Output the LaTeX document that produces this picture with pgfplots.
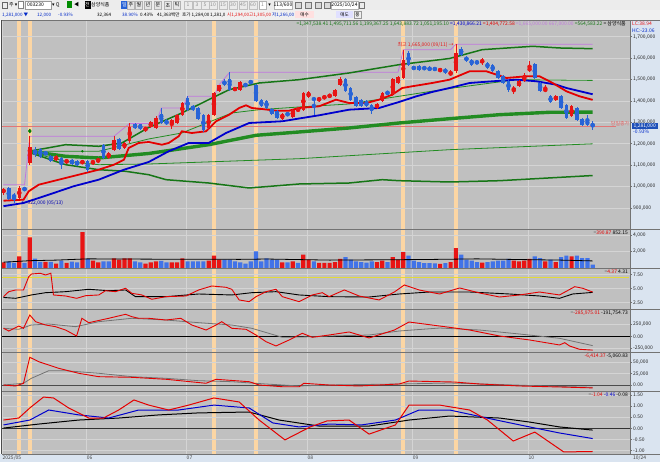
\documentclass[border=0pt]{standalone}
\usepackage{pgfplots}
\pgfplotsset{compat=1.18}
\usepackage{pgfplotstable}
\usepackage{fontspec}
\setmainfont{Noto Sans CJK KR}
\newfontfamily\dv{DejaVu Sans}
\definecolor{bg}{RGB}{192,192,192}
\definecolor{gridc}{RGB}{212,212,212}
\definecolor{band}{RGB}{252,214,164}
\definecolor{colbg}{RGB}{218,228,240}
\definecolor{tbg}{RGB}{236,236,236}
\definecolor{cred}{RGB}{232,20,20}
\definecolor{cblue}{RGB}{40,100,215}
\definecolor{vblue}{RGB}{65,115,232}
\definecolor{mared}{RGB}{228,0,0}
\definecolor{mablue}{RGB}{0,0,205}
\definecolor{g1}{RGB}{22,118,22}
\definecolor{g2}{RGB}{34,140,34}
\definecolor{purp}{RGB}{192,120,222}
\definecolor{salmon}{RGB}{226,118,118}
\definecolor{tblue}{RGB}{0,40,200}
\definecolor{pbox}{RGB}{30,80,185}
\pgfplotsset{
  panel/.style={scale only axis, width=628bp, xmin=-0.285, xmax=119.1,
    axis line style={draw=none}, xtick=\empty, scaled y ticks=false,
    ytick pos=right, yticklabel pos=right, tick align=outside,
    major tick length=2bp, ytick style={draw=black!55, line width=0.4bp},
    yticklabel style={font=\fontsize{5}{6}\selectfont, text=black!85, anchor=west, inner xsep=1bp},
    ymajorgrids, grid style={draw=gridc, line width=0.5bp}},
  wick/.style={color=#1, only marks, mark=none, forget plot, error bars/.cd, y dir=both, y explicit,
    error mark=none, error bar style={color=#1, line width=0.7bp}},
  body/.style={color=#1, only marks, mark=none, forget plot, error bars/.cd, y dir=both, y explicit,
    error mark=none, error bar style={color=#1, line width=3.5bp}},
}
\begin{document}
\pgfplotstableread{
i o h l c
0 970 995 962 990
3 947 1000 940 993
5 1110 1234 1100 1183
10 1125 1145 1118 1140
12 1110 1130 1105 1125
15 1110 1122 1105 1118
17 1108 1125 1100 1120
18 1118 1130 1112 1127
20 1133 1163 1128 1158
21 1172 1234 1165 1215
23 1180 1210 1175 1205
24 1211 1295 1205 1277
27 1262 1280 1255 1276
28 1277 1306 1272 1301
29 1273 1330 1268 1320
32 1290 1315 1270 1310
33 1296 1340 1290 1334
34 1336 1395 1330 1390
39 1272 1337 1265 1332
40 1334 1440 1330 1437
41 1445 1476 1440 1476
44 1451 1465 1445 1460
45 1453 1492 1448 1488
53 1317 1343 1312 1339
55 1323 1363 1318 1359
56 1351 1371 1346 1367
57 1359 1442 1354 1437
58 1420 1445 1412 1440
60 1402 1418 1396 1414
61 1413 1425 1408 1421
62 1418 1434 1413 1430
63 1421 1457 1416 1453
64 1476 1510 1470 1500
71 1367 1390 1362 1385
72 1398 1442 1393 1437
74 1430 1505 1425 1500
75 1484 1515 1478 1510
76 1507 1639 1502 1593
83 1542 1552 1536 1546
85 1520 1545 1515 1535
86 1538 1665 1532 1624
91 1583 1600 1570 1587
97 1451 1470 1430 1458
98 1468 1497 1463 1492
99 1492 1528 1487 1523
100 1538 1586 1533 1557
103 1447 1475 1440 1455
105 1405 1426 1400 1421
108 1328 1380 1323 1375
}\upc
\pgfplotstableread{
i o h l c
1 993 998 935 941
2 962 968 922 947
4 990 997 978 987
6 1165 1185 1140 1150
7 1175 1180 1135 1140
8 1158 1165 1145 1152
9 1142 1148 1115 1120
11 1133 1138 1080 1102
13 1125 1130 1100 1105
14 1117 1122 1095 1099
16 1120 1125 1070 1078
19 1193 1198 1128 1133
22 1220 1225 1170 1175
25 1290 1295 1268 1274
26 1290 1294 1262 1268
30 1339 1367 1290 1296
31 1310 1315 1285 1290
35 1414 1421 1355 1359
36 1375 1380 1352 1360
37 1367 1372 1312 1317
38 1334 1338 1255 1265
42 1492 1500 1470 1476
43 1500 1533 1448 1453
46 1478 1483 1465 1470
47 1490 1495 1480 1486
48 1473 1478 1396 1401
49 1405 1410 1370 1375
50 1400 1405 1362 1367
51 1364 1368 1334 1339
52 1352 1356 1315 1320
54 1343 1347 1328 1333
59 1412 1420 1333 1405
65 1504 1508 1440 1445
66 1460 1464 1400 1406
67 1417 1421 1370 1375
68 1405 1410 1370 1375
69 1398 1402 1370 1375
70 1382 1386 1340 1351
73 1440 1445 1430 1435
77 1624 1635 1562 1569
78 1556 1562 1545 1552
79 1562 1567 1540 1545
80 1555 1560 1545 1552
81 1557 1561 1538 1543
82 1550 1556 1542 1548
84 1551 1555 1525 1530
87 1644 1650 1610 1616
88 1605 1610 1583 1588
89 1593 1598 1564 1569
90 1582 1588 1572 1578
92 1577 1582 1549 1554
93 1569 1574 1533 1538
94 1538 1543 1502 1507
95 1515 1520 1479 1484
96 1493 1498 1440 1453
101 1572 1577 1502 1507
102 1484 1489 1440 1445
104 1421 1426 1390 1395
106 1421 1426 1362 1367
107 1382 1387 1315 1320
109 1367 1372 1307 1312
110 1317 1322 1284 1289
111 1307 1335 1284 1289
112 1294 1305 1266 1281
}\dnc
\pgfplotstableread{
i v
0 683
3 1401
5 3677
8 730
10 527
12 611
15 4323
17 886
18 683
21 1162
22 1006
23 1162
24 1162
27 527
28 683
29 802
32 683
33 683
34 1162
39 886
40 1485
41 1006
53 683
55 802
57 1605
58 1006
60 611
61 611
62 611
63 700
64 1100
71 700
72 900
74 1300
75 1000
76 1900
83 500
85 700
86 2400
91 650
97 900
98 800
99 900
100 1100
103 800
105 700
108 1400
}\vred
\pgfplotstableread{
i v
1 802
2 611
4 611
6 1126
7 730
9 730
11 886
13 766
14 683
16 1090
19 802
20 802
25 802
26 683
30 862
31 683
35 802
36 802
37 802
38 802
42 1006
43 1006
44 802
45 683
46 527
47 802
48 2000
49 802
50 1162
51 1006
52 1006
54 683
56 611
59 802
65 1300
66 1000
67 800
68 700
69 650
70 800
73 700
77 1500
78 900
79 700
80 600
81 600
82 550
84 600
87 1600
88 1000
89 900
90 700
92 700
93 800
94 900
95 900
96 1100
101 1400
102 1200
104 1000
106 1300
107 1500
109 1500
110 1200
111 1200
112 391
}\vblue
\begin{tikzpicture}[x=1bp,y=1bp,font=\fontsize{5}{6}\selectfont]
\path[use as bounding box] (0,0) rectangle (660,462);
\fill[tbg] (0,452) rectangle (660,462);
\fill[white!94!black] (0,442) rectangle (660,452);
\fill[colbg] (630,0) rectangle (660,442);
\fill[colbg] (0,0) rectangle (660,8);
% toolbar row 1
\draw[black!60,line width=0.4] (2.5,454) rectangle (7.5,460);
\node[anchor=west,inner sep=0] at (9,457) {주 {\dv ▾}};
\draw[black!50,fill=white] (18,453.5) rectangle (23,460.5);
\draw[black!40,fill=white] (25,453) rectangle (51,461);
\node[anchor=west,inner sep=0] at (27,457) {003230};
\node[anchor=west,inner sep=0] at (52,457) {{\dv ▾} Q};
\fill[green!55!black] (67,453.5) rectangle (72,460.5);
\node[anchor=west,inner sep=0] at (74,457) {◀};
\fill[black] (84.5,453) rectangle (90.5,461);
\node[text=white,inner sep=0] at (87.5,457) {전};
\node[anchor=west,inner sep=0] at (91,457) {삼양식품};
\fill[cblue] (121,453) rectangle (128,461);
\node[text=white,inner sep=0] at (124.5,457) {일};
\foreach \xx/\tt in {131/주,139/월,148/년,158/분,168/초,177/틱}{
  \draw[black!30,fill=white!90!black] (\xx-3.5,453) rectangle (\xx+3.5,461);
  \node[inner sep=0] at (\xx,457) {\tt};}
\foreach \xx/\tt in {188/1,197/3,205/5,213/10,223/15,233/30,243/45,253/60}{
  \draw[black!25,fill=white!92!black] (\xx-4,453) rectangle (\xx+4,461);
  \node[inner sep=0,text=black!45] at (\xx,457) {\tt};}
\draw[black!30,fill=white] (259,453) rectangle (266,461);
\node[inner sep=0,text=black!45] at (262.5,457) {1};
\node[inner sep=0] at (269.5,457) {\dv ▾};
\draw[black!30,fill=white] (274,453) rectangle (292,461);
\node[inner sep=0] at (283,457) {113/600};
\foreach \xx in {295,305,315,324}{\draw[black!55,fill=white!85!black] (\xx,454) rectangle (\xx+6,460);}
\draw[black!30,fill=white] (331,453) rectangle (358,461);
\node[inner sep=0] at (344.5,457) {2025/10/24};
\draw[black!55] (359,454) rectangle (364,460);
% toolbar row 2
\begin{scope}[font=\fontsize{4.6}{5.5}\selectfont]
\node[anchor=west,inner sep=0,text=tblue] at (2,446.8) {1,281,000 ▼};
\node[anchor=west,inner sep=0,text=tblue] at (37,446.8) {12,000};
\node[anchor=west,inner sep=0,text=tblue] at (58,446.8) {-0.93\%};
\node[anchor=west,inner sep=0] at (97,446.8) {32,364};
\node[anchor=west,inner sep=0,text=tblue] at (122,446.8) {38.90\%};
\node[anchor=west,inner sep=0] at (140,446.8) {0.43\%};
\node[anchor=west,inner sep=0] at (157,446.8) {41,363백만};
\node[anchor=west,inner sep=0] at (182,446.8) {호가 1,284,00};
\node[anchor=west,inner sep=0] at (210,446.8) {1,281,0};
\node[anchor=west,inner sep=0,text=cred] at (227,446.8) {시1,294,00};
\node[anchor=west,inner sep=0,text=cred] at (249,446.8) {고1,305,00};
\node[anchor=west,inner sep=0,text=tblue] at (272,446.8) {저1,266,00};
\fill[red!12] (295,443.5) rectangle (314,450.5);
\node[inner sep=0] at (304.5,447) {매수};
\fill[blue!12] (336,443.5) rectangle (353,450.5);
\node[inner sep=0] at (344.5,447) {매도};
\draw[black!40] (354,443.5) rectangle (361,450.5);
\node[inner sep=0] at (357.5,447) {풍};
\end{scope}
% background axis: grey field, highlighted days, month lines
\begin{axis}[scale only axis, width=628bp, height=434bp, at={(2bp,8bp)}, anchor=south west,
  xmin=-0.285, xmax=119.1, ymin=0, ymax=1, axis line style={draw=none}, ytick=\empty,
  xtick={-0.285,15.7,34.7,57.7,77.7,99.7}, xticklabels={2025/05,06,07,08,09,10},
  xticklabel style={anchor=north west, inner sep=0pt, yshift=-1.5bp, xshift=0.5bp, font=\fontsize{5}{6}\selectfont, text=black!75},
  major tick length=0pt, xmajorgrids, grid style={draw=gridc, line width=0.5bp},
  axis background/.style={fill=bg}]
\addplot[fill=band, draw=none] coordinates {(2.62,1) (3.38,1)} \closedcycle;
\addplot[fill=band, draw=none] coordinates {(4.62,1) (5.38,1)} \closedcycle;
\addplot[fill=band, draw=none] coordinates {(39.62,1) (40.38,1)} \closedcycle;
\addplot[fill=band, draw=none] coordinates {(47.62,1) (48.38,1)} \closedcycle;
\addplot[fill=band, draw=none] coordinates {(75.62,1) (76.38,1)} \closedcycle;
\addplot[fill=band, draw=none] coordinates {(85.62,1) (86.38,1)} \closedcycle;
\end{axis}
% price panel
\begin{axis}[panel, height=209bp, at={(2bp,442bp)}, anchor=north west, ymin=801.4, ymax=1778,
  ytick={900,1000,...,1700},
  yticklabels={{900,000},{1,000,000},{1,100,000},{1,200,000},{1,300,000},{1,400,000},{1,500,000},{1,600,000},{1,700,000}}]
\addplot[purp, line width=0.8bp] coordinates {(0,1008.4) (4,1008.4) (5,1234.6) (21,1234.6) (24,1295) (29,1295) (30,1366.8) (34,1366.8) (35,1421.5) (40,1421.5) (41,1475.7) (43,1533.6) (75,1533.6) (76,1639.3) (85,1639.3) (86,1665) (112,1665)};
\addplot[salmon, line width=0.6bp] coordinates {(-0.3,1281) (116.5,1281)};
\addplot[g1, line width=1.5bp] coordinates {(5,1158) (11.8,1101.9) (18.1,1078.5) (23.2,1071.0) (27.6,1055.1) (30.9,1031.8) (39,1016.3) (46.7,993.0) (56.2,1011.7) (65.7,1016.3) (72,1031.8) (75.2,1027.1) (84.8,1021.0) (94.3,1027.1) (112,1051.2)};
\addplot[g2, line width=0.8bp] coordinates {(5,1160) (11.8,1117.7) (18.1,1101.9) (27.6,1105.1) (56.2,1129.9) (84.8,1172.0) (112,1199.4)};
\addplot[g2, line width=0.8bp] coordinates {(5,1165) (18.1,1164.5) (27.6,1222.0) (33.9,1250.0) (43.4,1343.5) (48.6,1358.9) (56.2,1371.5) (65.7,1385.5) (75.2,1421.5) (84.8,1457.9) (97.5,1499.1) (112,1495.7)};
\addplot[g1, line width=1.5bp] coordinates {(5,1165) (11.8,1195.3) (18.1,1187.8) (22.5,1203.3) (27.6,1275.7) (33.9,1343.5) (39,1405.6) (42.9,1452.3) (48.6,1483.6) (56.2,1499.1) (65.7,1530.4) (75.2,1569.2) (84.8,1598.1) (91,1639.3) (100.6,1655.1) (105.7,1647.2) (112,1643.9)};
\addplot[g2, line width=3.4bp] coordinates {(5,1164.5) (11.8,1141.1) (18.1,1133.2) (27.6,1154.2) (39,1195.3) (48,1239.2) (56.2,1254.7) (65.7,1273.4) (75.2,1296.7) (84.8,1316.8) (94.3,1335.5) (103.8,1346.7) (112,1347.5)};
\addplot[mablue, line width=1.8bp] coordinates {(0,908.1) (3.8,922.9) (8.6,961.7) (13.3,1000.9) (18.1,1031.8) (22.9,1078.5) (27.6,1114.5) (31.4,1164.5) (35.2,1203.3) (39,1203.3) (42.3,1250.0) (46.7,1296.7) (53,1304.7) (56.2,1317.7) (60,1332.7) (65.7,1358.9) (71.4,1366.8) (75.2,1394.9) (78.5,1421.5) (81.5,1441.6) (84.8,1460.3) (88.6,1483.6) (93,1491.6) (97.5,1499.1) (101.3,1491.6) (105.1,1475.7) (107,1460.3) (112,1430.9)};
\addplot[mared, line width=1.8bp] coordinates {(0,933.6) (3.8,938.3) (4.8,977.6) (6.7,1008.4) (10.5,1031.8) (14.3,1055.1) (18.1,1078.5) (21,1101.9) (22.9,1125.2) (23.8,1179.9) (25.7,1203.3) (27.6,1207.9) (30.1,1195.3) (31.4,1203.3) (33.3,1234.6) (33.9,1257.9) (35.8,1250.0) (38.5,1257.9) (40.4,1304.7) (42.9,1335.5) (44.8,1366.8) (46.1,1379.4) (47.2,1366.8) (49.1,1362.1) (51.8,1354.2) (54.3,1354.2) (56.2,1366.8) (60,1374.8) (63.2,1405.6) (65.7,1390.2) (69,1390.2) (71.4,1405.6) (73.9,1429.0) (75.8,1460.3) (77.7,1468.2) (81.5,1483.6) (84.8,1499.1) (88.6,1538.3) (91.8,1538.3) (95.6,1507.0) (99.4,1515.0) (101.9,1515.0) (104.4,1483.6) (107,1444.9) (109.5,1421.5) (112,1404.8)};
\addplot[wick=cred] table[x=i, y expr={(\thisrow{h}+\thisrow{l})/2}, y error expr={(\thisrow{h}-\thisrow{l})/2}] \upc;
\addplot[wick=cblue] table[x=i, y expr={(\thisrow{h}+\thisrow{l})/2}, y error expr={(\thisrow{h}-\thisrow{l})/2}] \dnc;
\addplot[body=cred] table[x=i, y expr={(\thisrow{o}+\thisrow{c})/2}, y error expr={max(abs(\thisrow{c}-\thisrow{o})/2,1.3)}] \upc;
\addplot[body=cblue] table[x=i, y expr={(\thisrow{o}+\thisrow{c})/2}, y error expr={max(abs(\thisrow{c}-\thisrow{o})/2,1.3)}] \dnc;
\addplot[only marks, mark=diamond*, mark size=2bp, color=green!50!black] coordinates {(5,1259)};
\addplot[only marks, mark=*, mark size=1bp, color=green!50!black] coordinates {(15,1164.5)};
\node[anchor=east, text=cred, inner sep=0.5bp] at (axis cs:85.7,1660) {최고 1,665,000 (09/11) →};
\node[anchor=west, text=blue!70!black, inner sep=0.5bp] at (axis cs:3.3,922) {← 922,000 (05/13)};
\end{axis}
% volume
\begin{axis}[panel, height=39bp, at={(2bp,233bp)}, anchor=north west, ymin=0, ymax=4700,
  ytick={2000,4000}, yticklabels={{2,000},{4,000}}]
\addplot[ybar, bar width=4.2bp, bar shift=0pt, fill=cred, draw=none] table[x=i,y=v] \vred;
\addplot[ybar, bar width=4.2bp, bar shift=0pt, fill=vblue, draw=none] table[x=i,y=v] \vblue;
\addplot[black, line width=0.8bp] coordinates {(0,700) (5,880) (10,950) (16,1100) (30,1060) (45,1040) (50,1080) (62,950) (70,980) (80,1020) (90,1100) (100,1000) (106,950) (112,852)};
\end{axis}
% panel 3
\begin{axis}[panel, height=41bp, at={(2bp,194bp)}, anchor=north west, ymin=1.39, ymax=8.61,
  ytick={2.5,5,7.5}, yticklabels={2.50,5.00,7.50}]
\addplot[yellow!75!gray, line width=0.6bp] coordinates {(-0.3,7.0) (119,7.0)};
\addplot[black, line width=0.9bp] coordinates {(0,3.42) (2.3,3.27) (3.8,3.56) (5.3,3.86) (8,4.26) (11.8,4.44) (16.2,4.86) (20,4.61) (23.2,4.74) (25.1,3.56) (30.9,3.56) (37.1,4.03) (43.4,3.86) (47.2,4.26) (51.8,4.44) (56.2,3.86) (61.9,3.56) (69.5,3.50) (75.2,4.03) (81,4.38) (88.6,4.38) (96.2,4.03) (101.9,3.68) (105.7,3.27) (108.2,4.03) (112,4.31)};
\addplot[mared, line width=0.9bp] coordinates {(0,3.56) (1,4.44) (2.3,4.74) (3.8,4.74) (4.8,7.08) (5.3,7.55) (7,7.68) (8,7.38) (9,7.68) (9.5,3.86) (11.8,3.68) (13.9,3.27) (15.6,3.73) (18.1,3.86) (19.4,4.61) (21.3,4.44) (23.2,5.04) (24.4,4.15) (26.3,3.86) (28.2,3.10) (30.9,3.56) (34.7,3.68) (37.1,4.74) (39.6,5.44) (42.3,5.21) (43.4,4.86) (44.8,2.98) (46.7,2.68) (48,3.56) (49.9,4.44) (51.8,4.86) (53,3.56) (56.2,2.68) (58.7,3.86) (60.6,4.26) (61.9,3.56) (64.8,4.74) (67.6,3.68) (71.4,2.98) (74.3,4.38) (76.2,5.62) (79,4.74) (82.9,4.03) (86.7,5.09) (90.5,4.21) (94.3,3.50) (98.1,3.86) (101.9,4.38) (105.7,3.86) (108.6,5.32) (110.1,5.04) (112,4.37)};
\end{axis}
% panel 4
\begin{axis}[panel, height=43bp, at={(2bp,153bp)}, anchor=north west, ymin=-325500, ymax=577500,
  ytick={-250000,0,250000}, yticklabels={{-250,000},{0.00},{250,000}}]
\addplot[black, line width=0.8bp] coordinates {(-0.3,0) (119.1,0)};
\addplot[black!55, line width=0.8bp] coordinates {(0,172000) (2.9,151000) (5.3,241000) (8.6,262000) (13.7,206000) (18.1,311000) (24.4,382000) (30.9,346000) (37.1,290000) (43.4,241000) (47.2,172000) (53,-17000) (59.4,-4000) (61.9,10000) (69.5,31000) (75.2,115000) (82.9,178000) (90.5,136000) (98.1,52000) (105.7,-38000) (112,-191755)};
\addplot[mared, line width=0.9bp] coordinates {(0,172000) (1,115000) (2.9,220000) (3.8,172000) (5,451000) (6.1,311000) (8,241000) (9.9,206000) (11.8,136000) (13.9,10000) (14.9,382000) (16.2,290000) (20,382000) (23.2,466000) (24.4,416000) (25.7,382000) (27.6,382000) (30.9,346000) (33.7,382000) (35.8,241000) (38.5,136000) (40.4,241000) (41.5,311000) (43.4,172000) (46.1,151000) (48,31000) (49.9,-109000) (51.8,-199000) (54.3,-73000) (56.8,67000) (58.7,-17000) (61.9,31000) (65.7,95000) (69.5,-31000) (74.3,136000) (77.1,304000) (82.9,220000) (88.6,136000) (94.3,10000) (100,-73000) (105.7,-178000) (106.7,-130000) (107.6,-199000) (109.5,-269000) (112,-285975)};
\end{axis}
% panel 5
\begin{axis}[panel, height=39bp, at={(2bp,110bp)}, anchor=north west, ymin=-13272, ymax=73000,
  ytick={0,25000,50000}, yticklabels={{0.00},{25,000},{50,000}}]
\addplot[black!70, line width=0.7bp] coordinates {(-0.3,0) (119.1,0)};
\addplot[black!55, line width=0.8bp] coordinates {(0,0) (3.8,3800) (5.3,14800) (8.6,31600) (11.8,31600) (18.1,25900) (24.4,18400) (30.9,14800) (37.1,9500) (43.4,7300) (49.9,2200) (56.2,-2200) (61.9,0) (75.2,2200) (84.8,4400) (94.3,1100) (105.7,-3300) (112,-5061)};
\addplot[mared, line width=0.9bp] coordinates {(0,0) (2.3,-2200) (3.8,3760) (5,61300) (6.7,51500) (10.5,36900) (14.3,25900) (18.1,18400) (24.4,17000) (30.9,12600) (38.5,3800) (40.4,12600) (46.7,7300) (48.6,0) (53,-3800) (56.2,-3800) (57.1,3800) (61.9,0) (67.6,-2200) (75.2,2200) (77.1,8800) (85.7,6600) (90.5,2200) (98.1,-2200) (105.7,-4400) (112,-6414)};
\end{axis}
% panel 6
\begin{axis}[panel, height=63bp, at={(2bp,71bp)}, anchor=north west, ymin=-1.152, ymax=1.672,
  ytick={-1,-0.5,0,0.5,1,1.5}, yticklabels={-1.00,-0.50,0.00,0.50,1.00,1.50}]
\addplot[black!80, line width=0.8bp] coordinates {(-0.3,0) (119.1,0)};
\addplot[black, line width=1bp] coordinates {(0,0.01) (6.7,0.19) (14.3,0.37) (21.9,0.46) (29.5,0.60) (37.1,0.69) (46.7,0.73) (52.4,0.37) (60,0.10) (69.5,0.10) (77.1,0.37) (84.8,0.55) (94.3,0.46) (100,0.28) (105.7,0.06) (112,-0.08)};
\addplot[mablue, line width=1bp] coordinates {(0,0.15) (5,0.37) (8.6,0.82) (14.3,0.60) (20,0.46) (25.7,0.82) (33.3,0.82) (40,1.04) (46.7,0.91) (51.2,0.24) (56.2,0.06) (61.9,0.19) (68,0.15) (74.5,0.37) (79,0.82) (84.8,0.82) (93.7,0.37) (99.2,0.10) (105.7,-0.21) (112,-0.46)};
\addplot[mared, line width=1bp] coordinates {(0,0.37) (2.9,0.46) (5,0.91) (7.6,1.40) (9.5,1.36) (12.4,0.91) (16.2,0.46) (19,0.46) (21.9,0.82) (24.8,1.27) (27.6,1.04) (31.4,0.82) (35.2,1.04) (40,1.36) (44.8,1.18) (48.6,0.37) (53.5,-0.52) (58.3,0.06) (61.5,0.33) (65.7,0.37) (69.5,-0.26) (74.5,0.15) (77.1,1.04) (82.9,1.04) (88.6,0.82) (92,0.37) (96.9,-0.57) (101,-0.17) (106.5,-1.06) (112,-1.04)};
\end{axis}
% separators
\foreach \yy in {8,71,110,153,194,233,442}{\draw[black!55, line width=0.5bp] (2,\yy) -- (660,\yy);}
\draw[black!55, line width=0.5bp] (630,8) -- (630,442);
\draw[black!70, line width=0.5bp] (1.5,8) -- (1.5,442);
% legends and labels
\node[anchor=east, inner sep=0] at (626,438) {{\color{g1}=1,347,538.41 1,495,711.56 1,199,367.25 1,643,883.72 1,051,195.10} {\color{mablue}=1,430,866.21} {\color{mared}=1,404,772.58} {\color{purp}=1,665,000.00 667,000.00} {\color{g1}=564,583.22} = 삼양식품};
\node[anchor=west, inner sep=0, text=cred] at (632,438) {LC:38.94};
\node[anchor=west, inner sep=0, text=tblue] at (632,431.5) {HC:-23.06};
\node[anchor=east, inner sep=0, text=salmon!80!red] at (629.5,338) {당일종가};
\fill[pbox] (631.5,333.3) rectangle (658,338.8);
\node[text=white, inner sep=0] at (644.7,336) {1,281,000};
\node[anchor=west, inner sep=0, text=tblue] at (633,330.5) {-0.93\%};
\node[anchor=east, inner sep=0] at (628,229) {{\color{black!60}=}{\color{mared}390.87} 852.15};
\node[anchor=east, inner sep=0] at (628,190) {{\color{black!60}=}{\color{mared}4.37} 4.31};
\node[anchor=east, inner sep=0] at (628,149) {{\color{black!60}=}{\color{mared}-285,975.01} -191,754.73};
\node[anchor=east, inner sep=0] at (628,106) {{\color{mared}-6,414.37} -5,060.83};
\node[anchor=east, inner sep=0] at (628,67) {{\color{black!60}=}{\color{mared}-1.04} {\color{mablue}-0.46} -0.08};
\node[anchor=west, inner sep=0, text=black!75] at (633,3.8) {10/24};
\end{tikzpicture}
\end{document}
